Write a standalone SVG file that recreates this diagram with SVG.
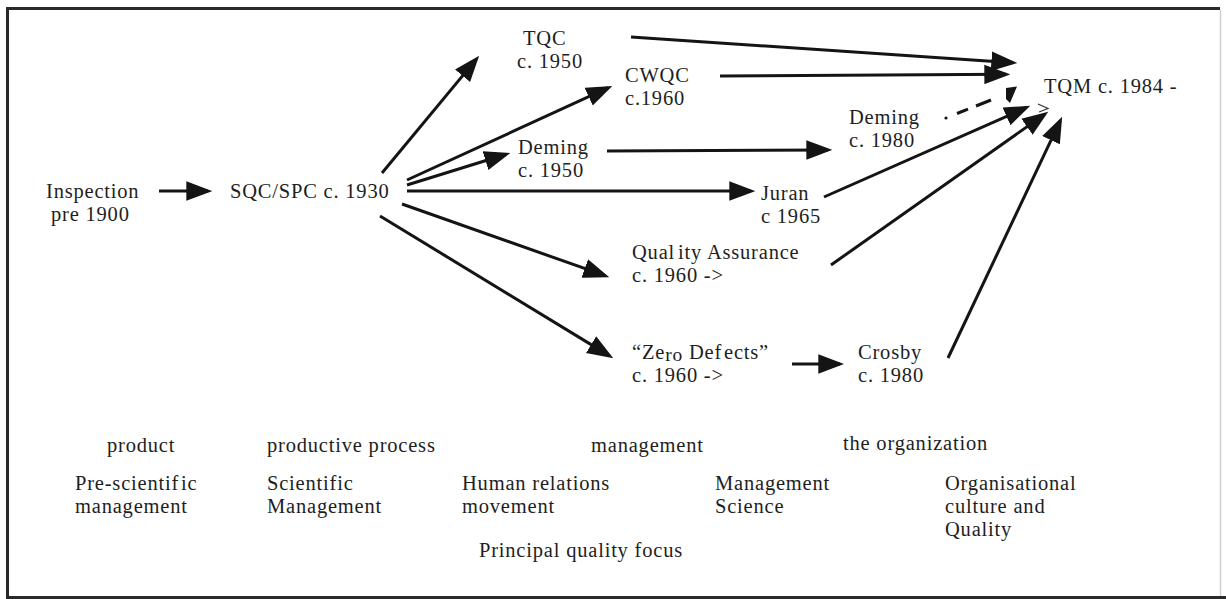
<svg xmlns="http://www.w3.org/2000/svg" width="1226" height="599" viewBox="0 0 1226 599">
  <style>
    text { font-family: "Liberation Serif", "Times New Roman", serif; font-size: 20.5px; letter-spacing: 0.8px; fill: #1e1e1e; }
    .link { stroke: #141414; stroke-width: 3; fill: none; marker-end: url(#head); }
    .dash { stroke: #141414; stroke-width: 3; fill: none; }
    .frame { stroke: #2a2a2a; stroke-width: 3; fill: none; }
  </style>
  <defs>
    <marker id="head" markerUnits="userSpaceOnUse" markerWidth="26" markerHeight="20" viewBox="0 0 24 18" refX="20" refY="9" orient="auto">
      <path d="M0,0 L24,9 L0,18 Z" fill="#141414"/>
    </marker>
  </defs>

  <rect x="0" y="0" width="1226" height="599" fill="#ffffff"/>
  <!-- outer frame -->
  <path class="frame" d="M7.5,598 L7.5,8.5 L1220,8.5"/>
  <path class="frame" d="M6,597.5 L1226,597.5"/>
  <line x1="1220.5" y1="10" x2="1220.5" y2="596" stroke="#d0d0d0" stroke-width="1.5"/>

  <!-- connectors -->
  <g id="connectors">
    <line class="link" x1="159" y1="191" x2="208" y2="191"/>
    <line class="link" x1="382" y1="173" x2="476.4" y2="59.1"/>
    <line class="link" x1="407" y1="180" x2="608.4" y2="87.7"/>
    <line class="link" x1="407" y1="185" x2="506.2" y2="154.2"/>
    <line class="link" x1="407" y1="191" x2="751" y2="191"/>
    <line class="link" x1="402" y1="204" x2="605.2" y2="275.7"/>
    <line class="link" x1="380" y1="216" x2="609.6" y2="355.9"/>
    <line class="link" x1="631" y1="37" x2="1013" y2="62.7"/>
    <line class="link" x1="720" y1="76" x2="1006" y2="74.3"/>
    <line class="link" x1="607" y1="151" x2="828" y2="150"/>
    <line class="link" x1="824" y1="197" x2="1026.3" y2="107.6"/>
    <line class="link" x1="831" y1="265" x2="1044.7" y2="114.3"/>
    <line class="link" x1="948" y1="358" x2="1060.3" y2="120.6"/>
    <line class="link" x1="792" y1="364" x2="840" y2="364"/>
    <!-- dashed link Deming c.1980 to TQM -->
    <circle cx="946" cy="118" r="1.6" fill="#141414"/>
    <line class="dash" x1="957" y1="113.5" x2="968" y2="109.2"/>
    <line class="dash" x1="976" y1="106" x2="991" y2="100"/>
    <polygon points="1006,88 1017,86.5 1010,103 1006,99" fill="#141414"/>
    <polyline points="1038,104 1048,108.5 1039,112" fill="none" stroke="#333" stroke-width="1.2"/>
  </g>

  <!-- nodes -->
  <g id="inspection"><text x="46" y="198">Inspection</text><text x="51" y="221">pre 1900</text></g>
  <g id="sqc"><text x="230" y="198">SQC/SPC c. 1930</text></g>
  <g id="tqc"><text x="523" y="45">TQC</text><text x="517" y="68">c. 1950</text></g>
  <g id="cwqc"><text x="625" y="82">CWQC</text><text x="625" y="105">c.1960</text></g>
  <g id="deming1950"><text x="518" y="154">Deming</text><text x="518" y="177">c. 1950</text></g>
  <g id="juran"><text x="761" y="200">Juran</text><text x="761" y="223">c 1965</text></g>
  <g id="qa"><text x="632" y="259">Qual<tspan dx="3">ity Assurance</tspan></text><text x="632" y="282">c. 1960 -&gt;</text></g>
  <g id="zerodefects"><text x="632" y="359">“Ze<tspan font-size="19.5" dy="1.5">ro</tspan><tspan dy="-1.5"> Def</tspan><tspan dx="2">ects”</tspan></text><text x="632" y="382">c. 1960 -&gt;</text></g>
  <g id="crosby"><text x="858" y="359">Crosby</text><text x="858" y="382">c. 1980</text></g>
  <g id="deming1980"><text x="849" y="124">Deming</text><text x="849" y="147">c. 1980</text></g>
  <g id="tqm"><text x="1044" y="93">TQM c. 1984 -</text></g>

  <!-- focus and management-era labels -->
  <g id="focus">
    <text x="107" y="452">product</text>
    <text x="267" y="452">productive process</text>
    <text x="591" y="452">management</text>
    <text x="843" y="450">the organization</text>
    <text x="479" y="557">Principal quality focus</text>
  </g>
  <g id="eras">
    <text x="75" y="490">Pre-scientif<tspan dx="2">ic</tspan></text><text x="75" y="513">management</text>
    <text x="267" y="490">Scientific</text><text x="267" y="513">Management</text>
    <text x="462" y="490">Human relations</text><text x="462" y="513">movement</text>
    <text x="715" y="490">Management</text><text x="715" y="513">Science</text>
    <text x="945" y="490">Organisational</text><text x="945" y="513">culture and</text><text x="945" y="536">Quality</text>
  </g>
</svg>
